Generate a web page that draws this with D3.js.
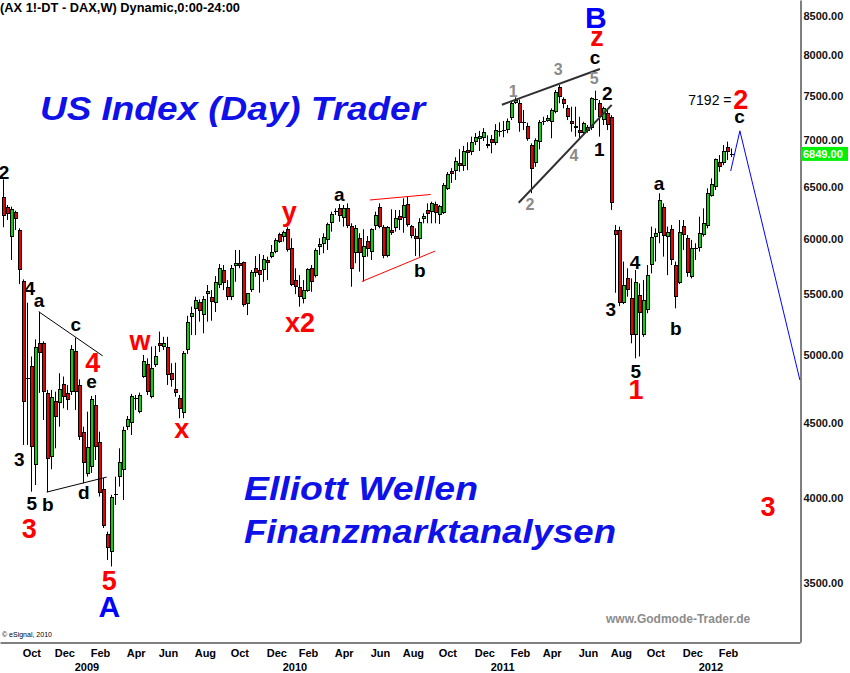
<!DOCTYPE html>
<html>
<head>
<meta charset="utf-8">
<script src="https://cdn.jsdelivr.net/npm/d3@7"></script>
<style>
html, body { margin: 0; padding: 0; background: #fff; }
svg { display: block; font-family: "Liberation Sans", Arial, sans-serif; }
</style>
</head>
<body>
<svg id="chart" width="850" height="673"></svg>
<script>
// weekly candles, first week starts Mon 1 Sep 2008
var firstWeek = Date.UTC(2008, 8, 1)

var opens = [
  6400, 6301, 6012, 6255, 6081, 5617, 4827, 4917, 4212, 5094,
  5094, 4716, 4267, 4657, 4638, 4780, 4716, 4723, 5036, 4773,
  4433, 4153, 4201, 4626, 4368, 4059, 3781, 3678, 4023, 4136,
  4179, 4472, 4496, 4674, 4578, 4836, 4932, 4686, 4924, 5099,
  5062, 5068, 4861, 4744, 4674, 4566, 5041, 5311, 5372, 5430,
  5324, 5501, 5479, 5422, 5580, 5712, 5565, 5479, 5751, 5773,
  5782, 5416, 5536, 5733, 5712, 5712, 5803, 5833, 5879, 6040,
  6012, 6091, 5910, 5623, 5565, 5456, 5530, 5728, 5658, 5920,
  5950, 5987, 6151, 6264, 6290, 6194, 6290, 6119, 5864, 6003,
  5827, 5981, 5879, 6119, 6307, 6107, 5839, 6081, 6097, 6216,
  6194, 6333, 6119, 6024, 5994, 6184, 6274, 6258, 6333, 6225,
  6242, 6483, 6670, 6672, 6757, 6719, 6890, 6872, 6981, 7010,
  7018, 6955, 7007, 6963, 7102, 7109, 7109, 7239, 7420, 7420,
  7195, 7154, 6945, 6748, 6981, 7213, 7213, 7202, 7316, 7607,
  7458, 7354, 7210, 7154, 7109, 7079, 7101, 7128, 7458, 7420,
  7221, 7298, 7258, 6081, 6081, 5427, 5638, 5464, 5160, 5493,
  5160, 5366, 5757, 6012, 6050, 6300, 6012, 6088, 5757, 5599,
  6119, 6003, 5652, 5910, 5910, 6034, 6119, 6413, 6500, 6765,
  6755, 6926, 6849
]
var highs = [
  6582, 6323, 6307, 6267, 6097, 5629, 5427, 4990, 5126, 5352,
  5110, 4736, 4736, 4723, 4861, 4836, 4773, 5080, 5138, 4815,
  4472, 4578, 4692, 4699, 4437, 4127, 3795, 4020, 4136, 4323,
  4472, 4547, 4707, 4699, 4716, 5002, 4976, 5068, 5073, 5188,
  5146, 5146, 4938, 4942, 4699, 5033, 5318, 5394, 5479, 5456,
  5485, 5580, 5536, 5658, 5766, 5757, 5623, 5757, 5894, 5894,
  5788, 5510, 5712, 5839, 5857, 5848, 5833, 5940, 6003, 6055,
  6075, 6107, 6003, 5728, 5667, 5623, 5728, 5757, 5910, 6003,
  6050, 6151, 6258, 6290, 6333, 6323, 6339, 6145, 6129, 6050,
  6088, 6024, 6097, 6258, 6339, 6129, 6119, 6281, 6274, 6274,
  6390, 6406, 6129, 6097, 6194, 6242, 6339, 6356, 6356, 6323,
  6545, 6657, 6698, 6813, 6900, 6935, 6974, 7036, 7076, 7100,
  7131, 7050, 7054, 7175, 7195, 7210, 7239, 7431, 7482, 7458,
  7335, 7191, 6963, 7018, 7221, 7258, 7277, 7354, 7568, 7627,
  7482, 7393, 7373, 7373, 7258, 7202, 7165, 7482, 7560, 7450,
  7373, 7343, 7277, 6129, 6113, 5788, 5728, 5638, 5712, 5594,
  5623, 5757, 6113, 6097, 6440, 6339, 6113, 6129, 5788, 6177,
  6177, 6034, 5987, 5956, 6209, 6290, 6490, 6592, 6800, 6836,
  6944, 6981, 6907
]
var lows = [
  6107, 6177, 5803, 6081, 5588, 4346, 4346, 4040, 4082, 4714,
  4519, 4037, 4184, 4323, 4472, 4602, 4590, 4699, 4590, 4380,
  4093, 4136, 4160, 4245, 4009, 3817, 3631, 3594, 3957, 4072,
  3988, 4449, 4414, 4590, 4566, 4826, 4699, 4674, 4909, 5025,
  5041, 4773, 4760, 4686, 4531, 4531, 5010, 5160, 5160, 5269,
  5174, 5269, 5277, 5349, 5553, 5536, 5450, 5450, 5608, 5728,
  5394, 5324, 5519, 5652, 5513, 5608, 5623, 5818, 5864, 5959,
  5971, 5879, 5571, 5501, 5394, 5422, 5521, 5521, 5646, 5848,
  5864, 5894, 6065, 6225, 6160, 6113, 6100, 5565, 5773, 5697,
  5611, 5833, 5803, 6081, 6097, 5818, 5827, 6034, 6065, 6081,
  6055, 6113, 6003, 5839, 5833, 6145, 6145, 6145, 6145, 6138,
  6235, 6473, 6545, 6575, 6660, 6670, 6677, 6836, 6944, 6880,
  6988, 6910, 6855, 6944, 7036, 7029, 7074, 7221, 7405, 7090,
  7109, 6991, 6440, 6712, 6897, 7165, 7202, 7018, 7298, 7413,
  7354, 7221, 7090, 7036, 7018, 7054, 7079, 7109, 7335, 7036,
  7165, 7109, 6274, 5513, 5399, 5416, 5479, 5094, 4976, 4990,
  5146, 5339, 5682, 5788, 5956, 5833, 5667, 5757, 5380, 5588,
  5894, 5652, 5638, 5803, 5879, 6018, 6097, 6406, 6473, 6660,
  6730, 6783, 6815
]
var closes = [
  6219, 6235, 6281, 6187, 5712, 4650, 4827, 4330, 5062, 5020,
  4721, 4250, 4686, 4538, 4741, 4682, 4662, 5049, 4723, 4403,
  4223, 4334, 4667, 4334, 4030, 3829, 3698, 4005, 4023, 4230,
  4449, 4524, 4692, 4674, 4699, 4958, 4723, 4899, 4994, 5073,
  5094, 4848, 4810, 4716, 4595, 5015, 5264, 5339, 5450, 5360,
  5456, 5530, 5436, 5608, 5728, 5594, 5479, 5733, 5773, 5751,
  5408, 5507, 5697, 5688, 5667, 5809, 5773, 5873, 5987, 5971,
  6062, 5894, 5580, 5565, 5479, 5536, 5718, 5608, 5894, 5948,
  6012, 6138, 6235, 6264, 6216, 6290, 6119, 5718, 6097, 5864,
  5928, 5900, 6088, 6225, 6107, 5839, 6107, 6050, 6194, 6177,
  6323, 6129, 6024, 5994, 6160, 6216, 6235, 6346, 6242, 6313,
  6524, 6637, 6634, 6776, 6719, 6879, 6855, 6981, 7036, 7043,
  7092, 6937, 6969, 7109, 7102, 7109, 7213, 7413, 7450, 7191,
  7195, 7007, 6684, 6999, 7202, 7213, 7239, 7335, 7548, 7489,
  7405, 7258, 7176, 7128, 7079, 7184, 7146, 7470, 7458, 7251,
  7354, 7165, 6346, 6031, 5427, 5580, 5536, 5160, 5608, 5339,
  5450, 5667, 6018, 6055, 6373, 6024, 6065, 5803, 5479, 6065,
  6034, 5682, 5910, 5910, 6050, 6145, 6440, 6534, 6790, 6712,
  6883, 6872, 6849
]

var lastPrice = 6849
var priceTicks = [3500, 4000, 4500, 5000, 5500, 6000, 6500, 7000, 7500, 8000, 8500]
var monthTicks = ["2008-10", "2008-12", "2009-02", "2009-04", "2009-06", "2009-08",
  "2009-10", "2009-12", "2010-02", "2010-04", "2010-06", "2010-08",
  "2010-10", "2010-12", "2011-02", "2011-04", "2011-06", "2011-08",
  "2011-10", "2011-12", "2012-02"]
var yearTicks = [2009, 2010, 2011, 2012]

// wave counts: [week index, price, text, kind]
var waveLabels = [
  [0.3, 6656, "2", "blk"], [6.8, 5553, "4", "blk"], [9.1, 5444, "a", "blk"],
  [18.3, 5242, "c", "blk"], [22.5, 4937, "4", "red"], [22.2, 4797, "e", "blk"],
  [4.15, 4245, "3", "blk"], [7.25, 3967, "5", "blk"], [11.25, 3962, "b", "blk"],
  [20.3, 4034, "d", "blk"], [6.65, 3809, "3", "red"], [26.65, 3515, "5", "red"],
  [26.65, 3378, "A", "blue"], [34.3, 5112, "w", "red"], [44.75, 4454, "x", "red"],
  [71.65, 6258, "y", "red"], [74.3, 5261, "x2", "red"], [84.15, 6423, "a", "blk"],
  [104.3, 5706, "b", "blk"], [127.65, 7548, "1", "gry"], [138.9, 7810, "3", "gry"],
  [147.9, 7706, "5", "gry"], [151.15, 7521, "2", "blk"], [149.15, 6897, "1", "blk"],
  [131.8, 6333, "2", "gry"], [142.8, 6829, "4", "gry"], [148.1, 7968, "c", "blk"],
  [148.6, 8221, "z", "red"], [148.3, 8470, "B", "blue"], [152, 5372, "3", "blk"],
  [158.1, 5779, "4", "blk"], [158.25, 4873, "5", "blk"], [158.3, 4736, "1", "red"],
  [164.1, 6544, "a", "blk"], [168.3, 5215, "b", "blk"], [184.5, 7456, "2", "red"],
  [184.2, 7260, "c", "blk"], [191.3, 3944, "3", "red"], [176.8, 7450, "7192 =", "note"]
]

// trend lines: [week index, price] pairs
var triangleUpper = [[9, 5352], [25, 4995]]
var triangleLower = [[11, 4037], [26, 4133]]
var flagUpper = [[91.8, 6373], [107, 6428]]
var flagLower = [[89.8, 5611], [108.1, 5884]]
var wedgeUpper = [[124.8, 7396], [149.3, 7821]]
var wedgeLower = [[129, 6346], [152.25, 7394]]
var projection = [[182, 6668], [184.3, 7100], [199.3, 4810]]

var DAY = 864e5
var plotW = 800, plotH = 642

function weekDate(i) {
  return new Date(firstWeek + i * 7 * DAY)
}

var x = d3.scaleUtc()
  .domain([weekDate(-2.7 / 4), weekDate((plotW - 2.7) / 4)])
  .range([0, plotW])

var y = d3.scaleLog()
  .domain([3194, 8711])
  .range([plotH, 0])

var svg = d3.select("#chart")

// watermark texts
var wm = svg.append("g")
  .attr("fill", "#1010e8")
  .attr("font-weight", "bold")
  .attr("font-style", "italic")
  .attr("font-size", 34)
wm.append("text").attr("x", 40).attr("y", 120).attr("textLength", 385)
  .attr("lengthAdjust", "spacingAndGlyphs").text("US Index (Day) Trader")
wm.append("text").attr("x", 244).attr("y", 500).attr("textLength", 234)
  .attr("lengthAdjust", "spacingAndGlyphs").text("Elliott Wellen")
wm.append("text").attr("x", 244).attr("y", 543).attr("textLength", 372)
  .attr("lengthAdjust", "spacingAndGlyphs").text("Finanzmarktanalysen")

svg.append("text")
  .attr("x", 606).attr("y", 623)
  .attr("fill", "#8c8c8c").attr("font-weight", "bold").attr("font-size", 12)
  .text("www.Godmode-Trader.de")

svg.append("text")
  .attr("x", 0).attr("y", 12)
  .attr("font-weight", "bold").attr("font-size", 12)
  .attr("textLength", 240).attr("lengthAdjust", "spacingAndGlyphs")
  .text("(AX 1!-DT - DAX,W) Dynamic,0:00-24:00")

svg.append("text")
  .attr("x", 2).attr("y", 637)
  .attr("font-size", 7)
  .text("\u00a9 eSignal, 2010")

// candles
var candles = opens.map(function(o, i) {
  return {date: weekDate(i), o: o, h: highs[i], l: lows[i], c: closes[i]}
})

function px(d) { return Math.round(x(d.date)) }
function bodyTop(d) { return Math.round(y(Math.max(d.o, d.c))) }
function bodyBot(d) { return Math.round(y(Math.min(d.o, d.c))) }

var cg = svg.append("g")

cg.selectAll("line.wick")
  .data(candles)
  .enter().append("line")
  .attr("class", "wick")
  .attr("x1", function(d) { return px(d) + 0.5 })
  .attr("x2", function(d) { return px(d) + 0.5 })
  .attr("y1", function(d) { return y(d.h) })
  .attr("y2", function(d) { return y(d.l) })
  .attr("stroke", "#000")
  .attr("stroke-width", 1)

var bodies = candles.filter(function(d) { return d.o != d.c })
var crosses = candles.filter(function(d) { return d.o == d.c })

cg.selectAll("rect.body")
  .data(bodies)
  .enter().append("rect")
  .attr("class", "body")
  .attr("x", function(d) { return px(d) - 1 })
  .attr("width", 4)
  .attr("y", bodyTop)
  .attr("height", function(d) { return Math.max(2, bodyBot(d) - bodyTop(d)) })
  .attr("fill", "#000")

cg.selectAll("rect.fill")
  .data(bodies.filter(function(d) { return bodyBot(d) - bodyTop(d) > 2 }))
  .enter().append("rect")
  .attr("class", "fill")
  .attr("x", function(d) { return px(d) })
  .attr("width", 2)
  .attr("y", function(d) { return bodyTop(d) + 1 })
  .attr("height", function(d) { return bodyBot(d) - bodyTop(d) - 2 })
  .attr("fill", function(d) { return d.c > d.o ? "#00d800" : "#e80000" })

cg.selectAll("line.cross")
  .data(crosses)
  .enter().append("line")
  .attr("class", "cross")
  .attr("x1", function(d) { return px(d) - 1 })
  .attr("x2", function(d) { return px(d) + 3 })
  .attr("y1", function(d) { return Math.round(y(d.c)) + 0.5 })
  .attr("y2", function(d) { return Math.round(y(d.c)) + 0.5 })
  .attr("stroke", "#000")

// trend lines
var line = d3.line()
  .x(function(p) { return x(weekDate(p[0])) })
  .y(function(p) { return y(p[1]) })

function drawLine(pts, color, width) {
  svg.append("path")
    .attr("d", line(pts))
    .attr("fill", "none")
    .attr("stroke", color)
    .attr("stroke-width", width)
}

drawLine(triangleUpper, "#000", 1)
drawLine(triangleLower, "#000", 1)
drawLine(flagUpper, "#ff0000", 1)
drawLine(flagLower, "#ff0000", 1)
drawLine(wedgeUpper, "#303030", 2)
drawLine(wedgeLower, "#303030", 2)
drawLine(projection, "#0000ff", 1)

// wave labels
var labelStyle = {
  blk: {fill: "#000", size: 19, weight: "bold"},
  gry: {fill: "#8a8a8a", size: 16, weight: "bold"},
  red: {fill: "#ff0000", size: 27, weight: "bold"},
  blue: {fill: "#0000ff", size: 30, weight: "bold"},
  note: {fill: "#000", size: 14, weight: "normal"}
}

svg.append("g").selectAll("text")
  .data(waveLabels)
  .enter().append("text")
  .attr("x", function(d) { return x(weekDate(d[0])) })
  .attr("y", function(d) { return y(d[1]) })
  .attr("text-anchor", "middle")
  .attr("dominant-baseline", "central")
  .attr("fill", function(d) { return labelStyle[d[3]].fill })
  .attr("font-size", function(d) { return labelStyle[d[3]].size })
  .attr("font-weight", function(d) { return labelStyle[d[3]].weight })
  .text(function(d) { return d[2] })

// price axis on the right
var yAxis = d3.axisRight(y)
  .tickValues(priceTicks)
  .tickFormat(d3.format(".2f"))
  .tickSize(0)
  .tickSizeOuter(0)
  .tickPadding(3)

var ya = svg.append("g")
  .attr("transform", "translate(" + (plotW + 0.5) + ",0)")
  .call(yAxis)
ya.select(".domain").attr("stroke", "#000")
ya.selectAll("text")
  .attr("font-family", "Liberation Sans, Arial, sans-serif")
  .attr("font-weight", "bold")
  .attr("font-size", 11)
  .attr("fill", "#111")

svg.append("rect")
  .attr("x", plotW + 1).attr("y", y(lastPrice) - 7)
  .attr("width", 47).attr("height", 14)
  .attr("fill", "#00f000")
svg.append("text")
  .attr("x", plotW + 3).attr("y", y(lastPrice))
  .attr("dominant-baseline", "central")
  .attr("fill", "#fff").attr("font-weight", "bold").attr("font-size", 11)
  .text(d3.format(".2f")(lastPrice))

// time axis
var monthDates = monthTicks.map(function(s) {
  var p = s.split("-")
  return d3.utcMonday.ceil(new Date(Date.UTC(+p[0], +p[1] - 1, 1)))
})
var yearDates = yearTicks.map(function(yr) {
  return d3.utcMonday.ceil(new Date(Date.UTC(yr, 0, 1)))
})

var xAxis = d3.axisBottom(x)
  .tickValues(monthDates)
  .tickFormat(d3.utcFormat("%b"))
  .tickSize(0)
  .tickSizeOuter(0)

var xa = svg.append("g")
  .attr("transform", "translate(0," + (plotH + 0.5) + ")")
  .call(xAxis)
xa.select(".domain").attr("stroke", "#000")
xa.selectAll("text")
  .attr("text-anchor", "start")
  .attr("dy", null)
  .attr("x", -0.5)
  .attr("y", 14.5)
  .attr("font-family", "Liberation Sans Narrow, Arial Narrow, Liberation Sans, sans-serif")
  .attr("font-weight", "bold")
  .attr("font-size", 11)
  .attr("fill", "#000")

var yearAxis = d3.axisBottom(x)
  .tickValues(yearDates)
  .tickFormat(d3.utcFormat("%Y"))
  .tickSize(0)
  .tickSizeOuter(0)

var yra = svg.append("g")
  .attr("transform", "translate(0," + (plotH + 0.5) + ")")
  .call(yearAxis)
yra.select(".domain").remove()
yra.selectAll("text")
  .attr("text-anchor", "start")
  .attr("dy", null)
  .attr("x", -0.5)
  .attr("y", 28)
  .attr("font-family", "Liberation Sans Narrow, Arial Narrow, Liberation Sans, sans-serif")
  .attr("font-weight", "bold")
  .attr("font-size", 11)
  .attr("fill", "#000")
</script>
</body>
</html>
